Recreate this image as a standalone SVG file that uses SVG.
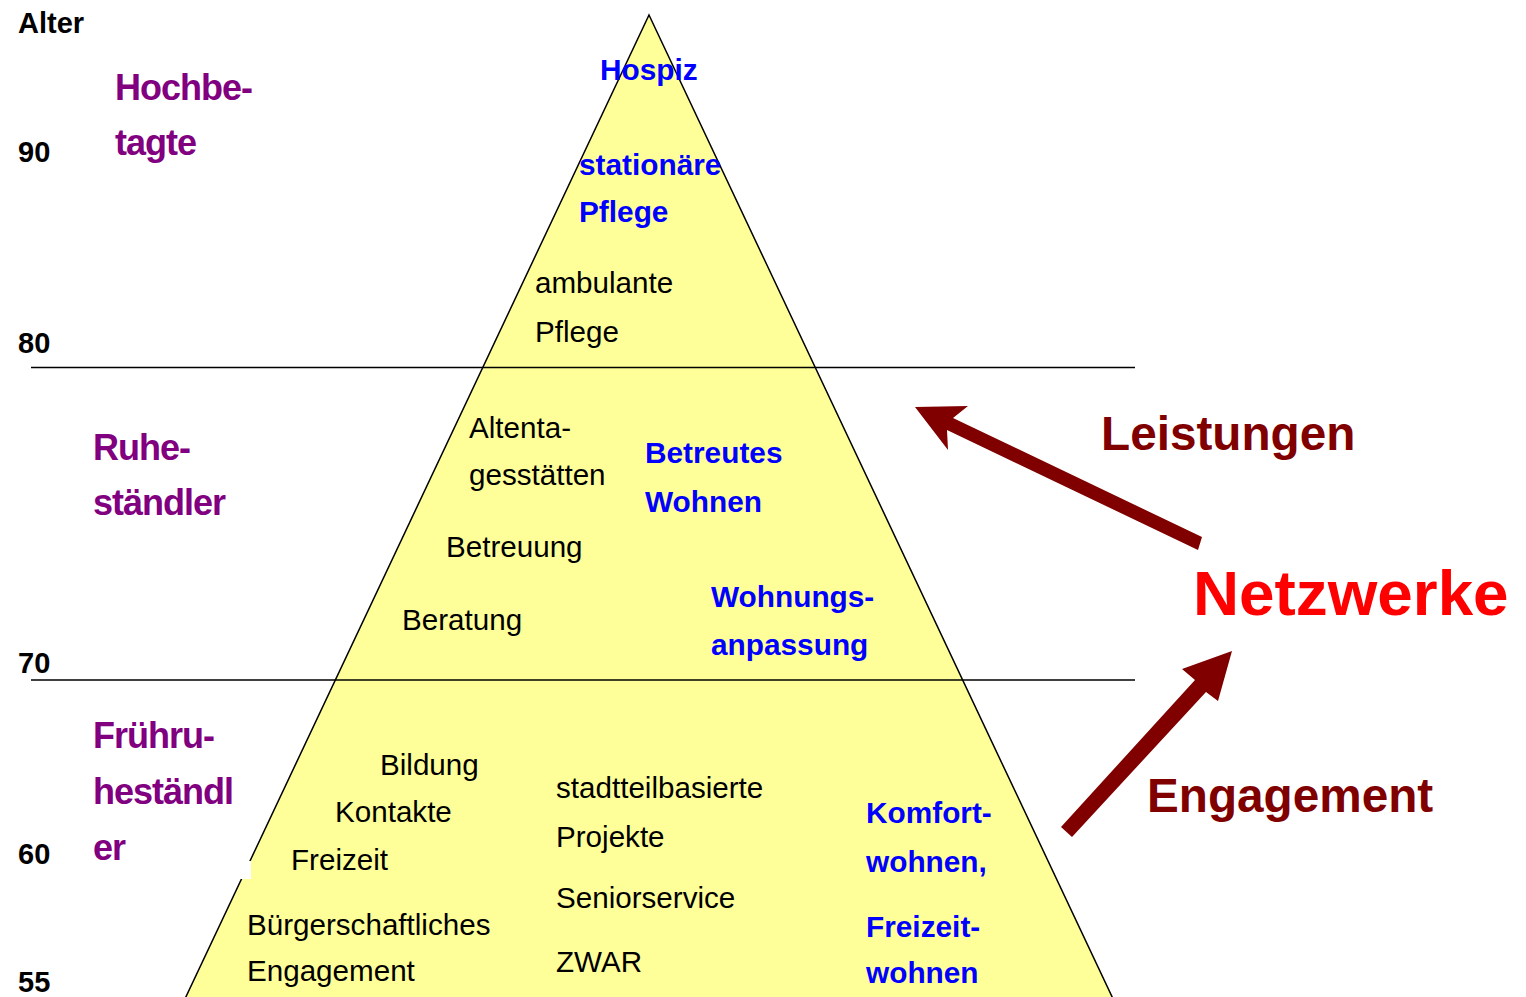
<svg xmlns="http://www.w3.org/2000/svg" width="1526" height="997" viewBox="0 0 1526 997">
<style>
text{font-family:"Liberation Sans",Arial,sans-serif}
.age{font-size:29px;font-weight:bold;fill:#000}
.grp{font-size:36px;font-weight:bold;fill:#800080;letter-spacing:-1px}
.n{font-size:29.6px;fill:#000}
.b{font-size:29.8px;font-weight:bold;fill:#0000FF}
.dr{font-weight:bold;fill:#800000;font-size:47.7px}
.rd{font-weight:bold;fill:#FF0000;font-size:63.8px}
.ln{stroke:#000;stroke-width:1.5}
.arr{fill:#800000}
</style>
<rect width="1526" height="997" fill="#fff"/>
<g id="pyramid">
<polygon points="649,15 1115,1003 183,1003" fill="#FFFF99" stroke="#000" stroke-width="1.5"/>
<rect x="219" y="861" width="32" height="18" fill="#fff"/>
</g>
<g id="bands">
<line class="ln" x1="31" y1="367.5" x2="1135" y2="367.5"/>
<line class="ln" x1="31" y1="680" x2="1135" y2="680"/>
</g>
<g id="axis">
<text class="age" x="18" y="33">Alter</text>
<text class="age" x="18" y="162">90</text>
<text class="age" x="18" y="353">80</text>
<text class="age" x="18" y="673">70</text>
<text class="age" x="18" y="864">60</text>
<text class="age" x="18" y="992">55</text>
</g>
<g id="groups">
<text class="grp" x="115" y="100">Hochbe-</text>
<text class="grp" x="115" y="155">tagte</text>
<text class="grp" x="93" y="460">Ruhe-</text>
<text class="grp" x="93" y="515">ständler</text>
<text class="grp" x="93" y="748">Frühru-</text>
<text class="grp" x="93" y="804">heständl</text>
<text class="grp" x="93" y="860">er</text>
</g>
<g id="top-level">
<text class="b" x="600" y="80">Hospiz</text>
<text class="b" x="579" y="175">stationäre</text>
<text class="b" x="579" y="222">Pflege</text>
<text class="n" x="535" y="293">ambulante</text>
<text class="n" x="535" y="342">Pflege</text>
</g>
<g id="middle-level">
<text class="n" x="469" y="438">Altenta-</text>
<text class="n" x="469" y="485">gesstätten</text>
<text class="b" x="645" y="463">Betreutes</text>
<text class="b" x="645" y="512">Wohnen</text>
<text class="n" x="446" y="557">Betreuung</text>
<text class="n" x="402" y="630">Beratung</text>
<text class="b" x="711" y="607">Wohnungs-</text>
<text class="b" x="711" y="655">anpassung</text>
</g>
<g id="bottom-level">
<text class="n" x="380" y="775">Bildung</text>
<text class="n" x="335" y="822">Kontakte</text>
<text class="n" x="291" y="870">Freizeit</text>
<text class="n" x="247" y="935">Bürgerschaftliches</text>
<text class="n" x="247" y="981">Engagement</text>
<text class="n" x="556" y="798">stadtteilbasierte</text>
<text class="n" x="556" y="847">Projekte</text>
<text class="n" x="556" y="908">Seniorservice</text>
<text class="n" x="556" y="972">ZWAR</text>
<text class="b" x="866" y="823">Komfort-</text>
<text class="b" x="866" y="872">wohnen,</text>
<text class="b" x="866" y="937">Freizeit-</text>
<text class="b" x="866" y="983">wohnen</text>
</g>
<g id="connectors">
<polygon class="arr" points="1202,537 1198,550 947,430 948,450 915,407 968,406 953,418"/>
<polygon class="arr" points="1061,827 1072,837 1206,692 1218,701 1232,651 1182,669 1195,680"/>
</g>
<g id="labels">
<text class="dr" x="1101" y="450">Leistungen</text>
<text class="rd" x="1193" y="615">Netzwerke</text>
<text class="dr" x="1147" y="812">Engagement</text>
</g>
</svg>
